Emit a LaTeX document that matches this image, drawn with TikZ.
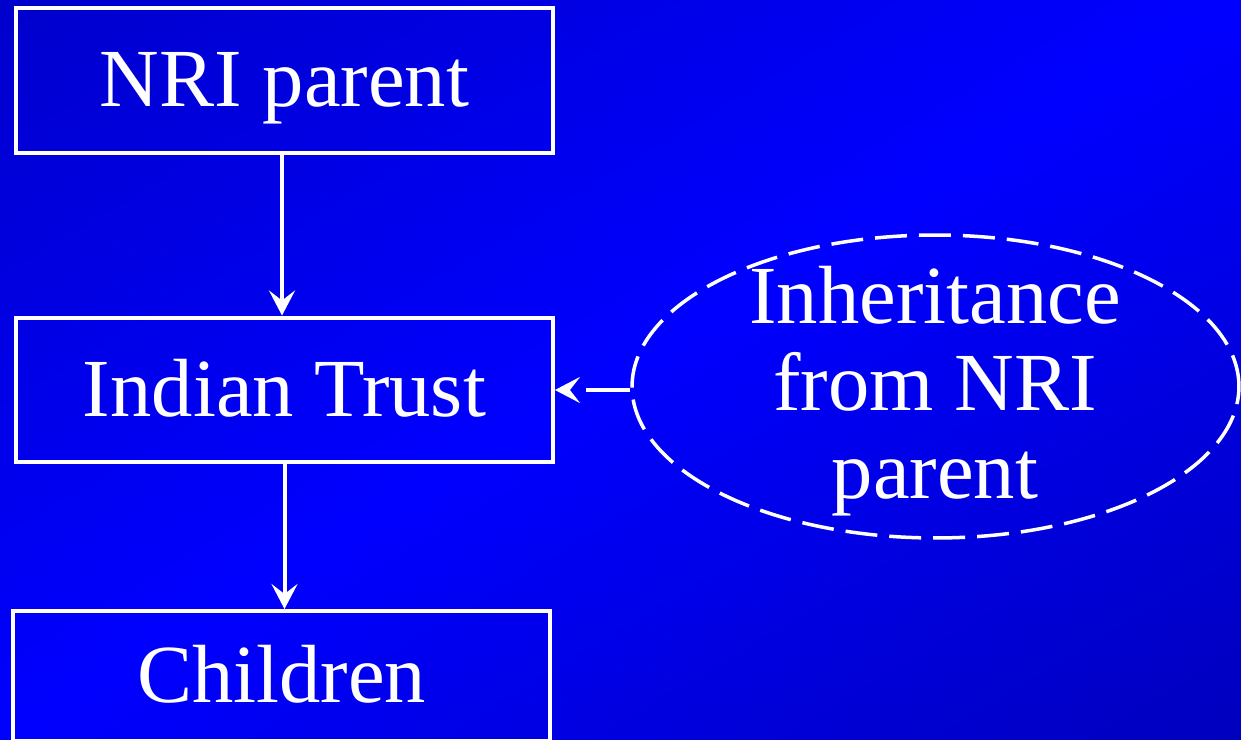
\documentclass[tikz,border=0pt]{standalone}
\usepackage{fontspec}
\setmainfont{Liberation Serif}
\usetikzlibrary{arrows.meta,shapes.geometric}
\definecolor{bgdarktl}{HTML}{0000CC}
\definecolor{bgdarkbr}{HTML}{0000BE}
\definecolor{bgbright}{HTML}{0000FF}
\tikzset{
  box/.style={draw=white, line width=0.08cm, minimum width=10.74cm, inner sep=0pt,
    text=white, font=\fontsize{47}{50}\selectfont, text height=32pt, text depth=2pt},
  flow/.style={draw=white, line width=0.08cm, -{Stealth[length=0.5cm, width=0.52cm, inset=0.2cm]}},
  oval/.style={draw=white, line width=0.07cm, ellipse, dash pattern=on 0.64cm off 0.24cm,
    minimum width=12.14cm, minimum height=6.06cm, inner sep=0pt},
  ovaltext/.style={text=white, font=\fontsize{47}{50}\selectfont, align=center},
  link/.style={draw=white, line width=0.08cm, dash pattern=on 0.88cm off 0.4cm,
    -{Stealth[length=0.5cm, width=0.52cm, inset=0.2cm]}}
}
\begin{document}
\begin{tikzpicture}[x=0.02cm, y=-0.02cm]
\useasboundingbox (0,0) rectangle (1241,740);
\clip (0,0) rectangle (1241,740);
\foreach \k in {0,...,79}{
  \pgfmathsetmacro{\a}{\k/40}
  \pgfmathsetmacro{\b}{(\k+1)/40}
  \pgfmathsetmacro{\m}{(\k+0.5)/40}
  \pgfmathsetmacro{\p}{\m<1 ? 100*\m : 100*(2-\m)}
  \ifdim\m pt<1pt \colorlet{stripc}{bgbright!\p!bgdarktl}\else\colorlet{stripc}{bgbright!\p!bgdarkbr}\fi
  \fill[stripc, draw=stripc, line width=0.5pt] (\a*1241,0) -- (\b*1241,0) -- (0,\b*740) -- (0,\a*740) -- cycle;
}
\node[box, minimum height=2.9cm] (nri) at (284.5,80.5) {NRI parent};
\node[box, minimum height=2.9cm] (trust) at (284.5,390) {Indian Trust};
\node[box, minimum height=2.6cm] (children) at (281.5,676) {Children};
\node[oval] (inh) at (935.5,386.5) {};
\node[ovaltext] (inhtext) at (935,391) {Inheritance\\from NRI\\parent};
\draw[flow] ([xshift=-0.05cm]nri.south) -- ([xshift=-0.05cm]trust.north);
\draw[flow] (trust.south) -- (trust.south |- children.north);
\draw[link] (trust.east -| inh.west) -- (trust.east);
\end{tikzpicture}
\end{document}
